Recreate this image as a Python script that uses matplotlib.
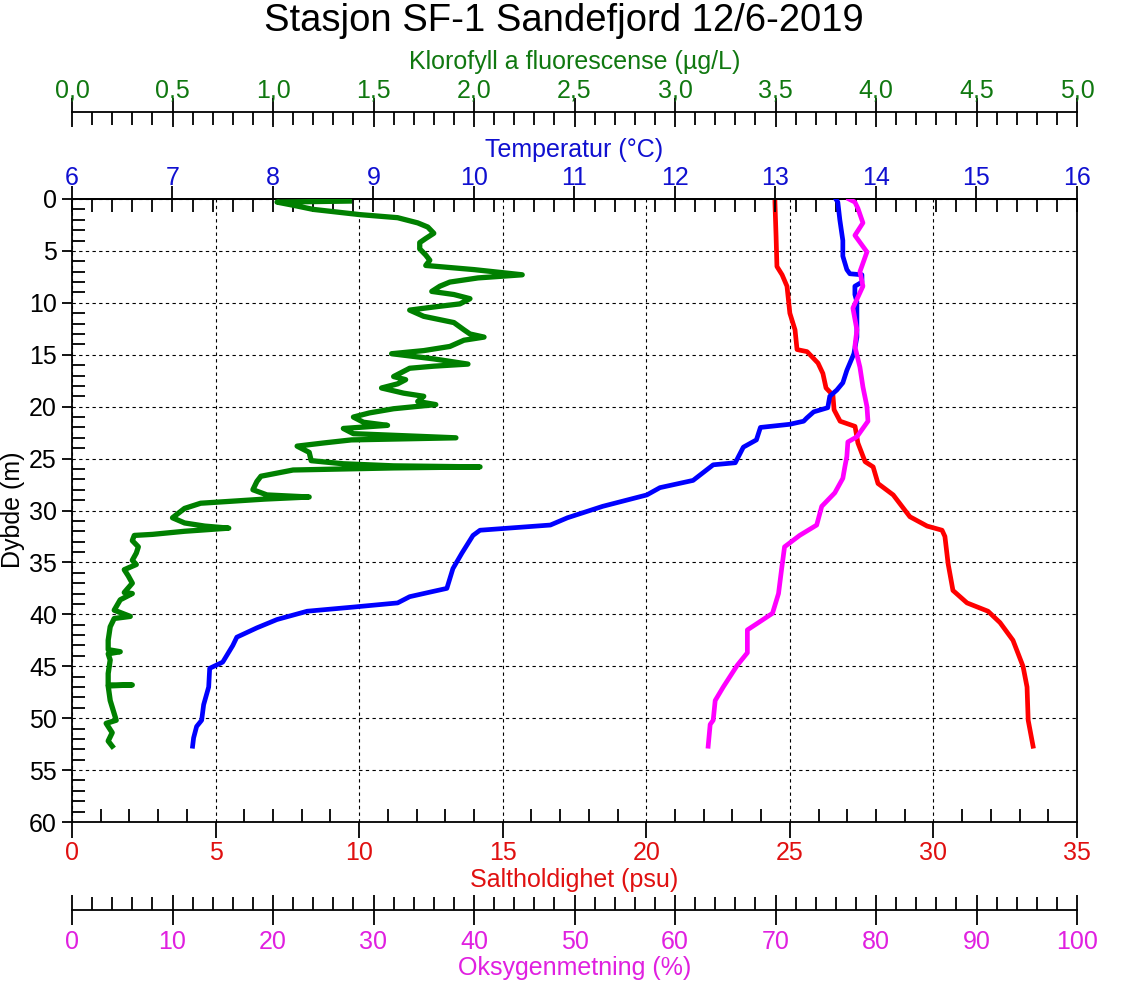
import matplotlib
matplotlib.use("Agg")
import matplotlib.pyplot as plt
from matplotlib.ticker import MultipleLocator, FuncFormatter

plt.rcParams['font.family'] = ['Liberation Sans', 'DejaVu Sans']

# ---------------- data ----------------
chl_depth = [0.2, 0.3, 0.6, 1.0, 1.5, 1.8, 2.3, 2.7, 3.3, 3.8, 4.2, 4.8, 5.4, 5.9, 6.4,
             6.8, 7.3, 7.6, 8.0, 8.4, 8.9, 9.2, 9.6, 10.1, 10.4, 10.7, 11.3, 11.9, 12.6,
             13.0, 13.3, 13.6, 14.2, 14.6, 14.9, 15.4, 15.9, 16.1, 16.3, 17.1, 17.4, 17.8,
             18.2, 18.7, 19.0, 19.5, 19.8, 20.2, 20.6, 21.0, 21.5, 21.8, 22.1, 22.6, 23.0,
             23.2, 23.5, 23.8, 24.4, 25.2, 25.5, 25.7, 25.8, 25.9, 26.1, 26.7, 27.2, 28.0,
             28.5, 28.7, 28.9, 29.1, 29.3, 29.8, 30.7, 31.2, 31.5, 31.7, 32.0, 32.3, 32.4,
             32.9, 33.5, 34.1, 34.8, 35.2, 35.7, 36.3, 37.0, 37.9, 38.0, 38.6, 39.6, 40.2,
             40.4, 41.2, 42.5, 43.4, 43.6, 43.8, 44.4, 45.7, 46.8, 46.8, 46.9, 48.3, 50.2,
             50.5, 51.4, 52.2, 52.7]
chl_value = [1.38, 1.02, 1.10, 1.20, 1.43, 1.62, 1.72, 1.77, 1.80, 1.76, 1.73, 1.73, 1.76, 1.78, 1.76,
             2.00, 2.24, 2.02, 1.88, 1.83, 1.79, 1.90, 1.98, 1.93, 1.80, 1.68, 1.75, 1.90, 1.95,
             1.98, 2.05, 1.95, 1.88, 1.75, 1.59, 1.80, 1.97, 1.80, 1.68, 1.60, 1.66, 1.62,
             1.54, 1.65, 1.75, 1.72, 1.81, 1.60, 1.48, 1.40, 1.45, 1.57, 1.35, 1.40, 1.91,
             1.39, 1.25, 1.12, 1.18, 1.19, 1.35, 1.60, 2.03, 1.60, 1.10, 0.94, 0.92, 0.90,
             0.97, 1.18, 0.96, 0.80, 0.64, 0.56, 0.50, 0.56, 0.66, 0.78, 0.56, 0.40, 0.31,
             0.30, 0.33, 0.32, 0.30, 0.32, 0.26, 0.28, 0.30, 0.26, 0.30, 0.24, 0.21, 0.29,
             0.21, 0.19, 0.18, 0.18, 0.24, 0.18, 0.19, 0.18, 0.18, 0.30, 0.18, 0.19, 0.22,
             0.17, 0.20, 0.18, 0.20]

temp_depth = [0.0, 0.3, 2.0, 4.0, 5.5, 6.8, 7.2, 7.3, 8.0, 8.4, 9.2, 9.9, 11.7, 13.3, 14.9,
              16.5, 17.7, 18.4, 19.0, 20.1, 20.5, 21.1, 21.4, 21.7, 22.0, 23.2, 23.9, 25.4,
              25.6, 27.1, 27.8, 28.5, 29.6, 30.7, 31.4, 31.9, 32.4, 34.1, 35.6, 37.5, 37.8,
              38.3, 38.9, 39.3, 39.7, 40.5, 41.3, 42.2, 43.0, 44.6, 45.2, 47.0, 48.7, 50.2,
              50.8, 51.9, 52.7]
temp_value = [13.60, 13.62, 13.64, 13.67, 13.67, 13.71, 13.74, 13.86, 13.86, 13.79, 13.79, 13.81, 13.81, 13.81, 13.78,
              13.71, 13.67, 13.61, 13.54, 13.52, 13.38, 13.31, 13.28, 13.14, 12.85, 12.81, 12.68, 12.60,
              12.38, 12.18, 11.85, 11.72, 11.28, 10.93, 10.76, 10.06, 9.99, 9.88, 9.79, 9.73, 9.59,
              9.36, 9.24, 8.80, 8.34, 8.04, 7.84, 7.64, 7.60, 7.50, 7.37, 7.36, 7.31, 7.29,
              7.24, 7.21, 7.20]

sal_depth = [0.0, 0.3, 3.6, 6.5, 7.3, 8.4, 11.0, 12.6, 14.5, 14.7, 15.8, 16.8, 18.2, 18.9, 20.3,
             21.4, 21.9, 23.5, 25.3, 25.8, 27.4, 28.5, 30.6, 31.5, 31.9, 32.5, 35.1, 37.7,
             38.9, 39.7, 40.8, 42.5, 45.0, 47.0, 50.2, 52.7]
sal_value = [24.48, 24.48, 24.52, 24.55, 24.73, 24.90, 25.00, 25.18, 25.25, 25.60, 25.98, 26.15, 26.26, 26.50, 26.54,
             26.75, 27.27, 27.37, 27.62, 27.90, 28.07, 28.60, 29.18, 29.78, 30.30, 30.40, 30.51, 30.68,
             31.17, 31.90, 32.32, 32.77, 33.12, 33.26, 33.30, 33.47]

oxy_depth = [0.0, 0.3, 0.9, 2.3, 3.5, 5.1, 7.0, 8.4, 10.5, 12.6, 14.2, 16.2, 18.1, 20.0, 21.4,
             22.9, 23.4, 24.8, 25.8, 26.9, 28.3, 29.6, 31.4, 32.4, 33.5, 35.7, 38.0, 39.9,
             40.8, 41.5, 43.7, 44.9, 47.0, 48.3, 50.2, 50.6, 52.7]
oxy_value = [77.3, 77.9, 78.2, 78.7, 77.9, 79.1, 78.4, 78.7, 77.7, 78.1, 77.9, 78.4, 78.7, 79.1, 79.2,
             78.1, 77.2, 77.1, 76.9, 76.7, 75.9, 74.6, 74.1, 72.4, 70.9, 70.6, 70.3, 69.7,
             68.3, 67.2, 67.2, 66.2, 64.8, 64.0, 63.8, 63.5, 63.3]

title = "Stasjon SF-1 Sandefjord 12/6-2019"
chl_label = "Klorofyll a fluorescense (µg/L)"
temp_label = "Temperatur (°C)"
sal_label = "Saltholdighet (psu)"
oxy_label = "Oksygenmetning (%)"
depth_label = "Dybde (m)"

# ---------------- layout ----------------
W, H = 1127, 982
fig = plt.figure(figsize=(W / 100, H / 100), dpi=100)
L, R, T, B = 72, 1077, 199, 822
ax = fig.add_axes([L / W, 1 - B / H, (R - L) / W, (B - T) / H])

FS = 18
GREEN, BLUE, RED, MAG = '#008000', '#0000ff', '#ff0000', '#ff00ff'
TGREEN, TBLUE, TRED, TMAG = '#107810', '#1010d0', '#e01010', '#e020e0'
LW = 3.4
SPW = 1.3
px = 0.72  # points per pixel

# main axis: salinity (bottom) / depth
ax.set_xlim(0, 35)
ax.set_ylim(60, 0)
ax.xaxis.set_major_locator(MultipleLocator(5))
ax.xaxis.set_minor_locator(MultipleLocator(1))
ax.yaxis.set_major_locator(MultipleLocator(5))
ax.yaxis.set_minor_locator(MultipleLocator(1))
ax.tick_params(axis='x', which='major', direction='out', length=16 * px, width=SPW,
               labelsize=FS, labelcolor=TRED, pad=2.5, top=False)
ax.tick_params(axis='x', which='minor', direction='in', length=13 * px, width=SPW, top=False)
ax.tick_params(axis='y', which='major', direction='out', length=10 * px, width=SPW,
               labelsize=FS, pad=3.6, right=False)
ax.tick_params(axis='y', which='minor', direction='in', length=13 * px, width=SPW, right=False)
ax.grid(which='major', color='black', linestyle=(0, (3, 3)), linewidth=0.8)
for s in ax.spines.values():
    s.set_linewidth(SPW)
ax.plot(sal_value, sal_depth, color=RED, lw=LW, zorder=3)

# temperature (top)
ax_t = ax.twiny()
ax_t.set_xlim(6, 16)
ax_t.xaxis.set_major_locator(MultipleLocator(1))
ax_t.xaxis.set_minor_locator(MultipleLocator(0.2))
ax_t.tick_params(axis='x', which='major', direction='inout', length=26 * px, width=SPW,
                 labelsize=FS, labelcolor=TBLUE, pad=-3.2)
ax_t.tick_params(axis='x', which='minor', direction='in', length=13 * px, width=SPW)
for k, s in ax_t.spines.items():
    s.set_visible(k == 'top')
    s.set_linewidth(SPW)
ax_t.plot(temp_value, temp_depth, color=BLUE, lw=LW, zorder=3)

# chlorophyll (detached top axis)
ax_c = ax.twiny()
ax_c.set_xlim(0, 5)
ax_c.spines['top'].set_position(('outward', (T - 112) * px))
ax_c.xaxis.set_major_locator(MultipleLocator(0.5))
ax_c.xaxis.set_minor_locator(MultipleLocator(0.1))
ax_c.xaxis.set_major_formatter(FuncFormatter(lambda v, p: f"{v:.1f}".replace('.', ',')))
ax_c.tick_params(axis='x', which='major', direction='inout', length=29 * px, width=SPW,
                 labelsize=FS, labelcolor=TGREEN, pad=-3.5)
ax_c.tick_params(axis='x', which='minor', direction='in', length=13 * px, width=SPW)
for k, s in ax_c.spines.items():
    s.set_visible(k == 'top')
    s.set_linewidth(SPW)
ax_c.plot(chl_value, chl_depth, color=GREEN, lw=LW + 0.4, zorder=3)

# oxygen (detached bottom axis)
ax_o = ax.twiny()
ax_o.set_xlim(0, 100)
ax_o.xaxis.set_ticks_position('bottom')
ax_o.spines['bottom'].set_position(('outward', (910 - B) * px))
ax_o.xaxis.set_major_locator(MultipleLocator(10))
ax_o.xaxis.set_minor_locator(MultipleLocator(2))
ax_o.tick_params(axis='x', which='major', direction='inout', length=30 * px, width=SPW,
                 labelsize=FS, labelcolor=TMAG, pad=3.8)
ax_o.tick_params(axis='x', which='minor', direction='in', length=13 * px, width=SPW)
for k, s in ax_o.spines.items():
    s.set_visible(k == 'bottom')
    s.set_linewidth(SPW)
ax_o.plot(oxy_value, oxy_depth, color=MAG, lw=LW, zorder=3)

# titles / axis labels
cx = (L + R) / 2 / W
fig.text(0.5, 1 - 21 / H, title, ha='center', va='center', fontsize=27.5)
fig.text(cx, 1 - 62 / H, chl_label, ha='center', va='center', fontsize=FS, color=TGREEN)
fig.text(cx, 1 - 150 / H, temp_label, ha='center', va='center', fontsize=FS, color=TBLUE)
fig.text(cx, 1 - 880 / H, sal_label, ha='center', va='center', fontsize=FS, color=TRED)
fig.text(cx, 1 - 968 / H, oxy_label, ha='center', va='center', fontsize=FS, color=TMAG)
fig.text(13 / W, 1 - 510 / H, depth_label, ha='center', va='center', fontsize=FS,
         rotation=90)

fig.savefig("out.png", dpi=100)
